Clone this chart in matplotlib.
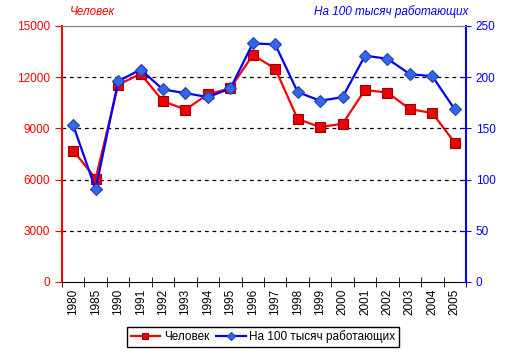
import numpy as np
import matplotlib.pyplot as plt

years = ['1980', '1985', '1990', '1991', '1992', '1993', '1994', '1995', '1996',
         '1997', '1998', '1999', '2000', '2001', '2002', '2003', '2004', '2005']
people = [7700, 6050, 11550, 12200, 10600, 10100, 11000, 11350, 13300,
          12500, 9550, 9080, 9270, 11250, 11100, 10130, 9900, 8160]
per100k = [153, 90.5, 196, 207.5, 188, 184.5, 180.5, 189, 233,
           232, 185.5, 177, 180.5, 221, 218, 203, 201, 168.5]

plt.rcParams['font.family'] = ['Liberation Sans', 'DejaVu Sans']
plt.rcParams['font.size'] = 8.5

fig = plt.figure(figsize=(5.13, 3.57), dpi=100)
ax = fig.add_axes([62 / 513, 75 / 357, 404 / 513, 256 / 357])
ax2 = ax.twinx()

x = np.arange(len(years))
l1, = ax.plot(x, people, color='#ff0000', lw=1.6, marker='s', ms=6.5,
              mfc='#ee0000', mec='#990000', mew=0.8, label='Человек', zorder=3)
l2, = ax2.plot(x, per100k, color='#0000ff', lw=1.6, marker='D', ms=6,
               mfc='#3366ee', mec='#2244aa', mew=0.8, label='На 100 тысяч работающих', zorder=3)

ax.set_xlim(-0.5, len(years) - 0.5)
ax.set_ylim(0, 15000)
ax2.set_ylim(0, 250)
ax.set_yticks(np.arange(0, 15001, 3000))
ax2.set_yticks(np.arange(0, 251, 50))

ax.set_xticks(x)
ax.set_xticklabels(years, rotation=90)
ax.set_xticks(np.arange(-0.5, len(years)), minor=True)
ax.tick_params(axis='x', which='major', length=0, pad=5, colors='black')
ax.tick_params(axis='x', which='minor', length=7, direction='inout', color='black')
ax.tick_params(axis='y', colors='#ff0000', direction='out', length=5)
ax2.tick_params(axis='y', colors='#0000ff', direction='inout', length=7)

for v in range(3000, 15000, 3000):
    ax.axhline(v, color='black', lw=0.9, ls=(0, (3, 3)), zorder=1)

ax.spines['left'].set_color('#ff0000')
ax.spines['left'].set_linewidth(1.5)
ax2.spines['right'].set_color('#0000ff')
ax2.spines['right'].set_linewidth(1.5)
ax2.spines['left'].set_visible(False)
ax.spines['right'].set_visible(False)
ax.spines['top'].set_color('gray')
ax2.spines['top'].set_color('gray')
ax.spines['bottom'].set_color('black')
ax2.spines['bottom'].set_visible(False)

fig.text(70 / 513, 1 - 12 / 357, 'Человек', color='#ff0000', style='italic',
         ha='left', va='center', fontsize=8.5)
fig.text(468 / 513, 1 - 12 / 357, 'На 100 тысяч работающих', color='#0000ff',
         style='italic', ha='right', va='center', fontsize=8.5)

fig.legend(handles=[l1, l2], loc='center', bbox_to_anchor=(263 / 513, 1 - 337 / 357),
           ncol=2, frameon=True, fancybox=False, edgecolor='black', framealpha=1,
           handlelength=2.5, handletextpad=0.3, columnspacing=0.6, borderpad=0.3,
           markerscale=0.7)

plt.savefig('out.png', dpi=100)
